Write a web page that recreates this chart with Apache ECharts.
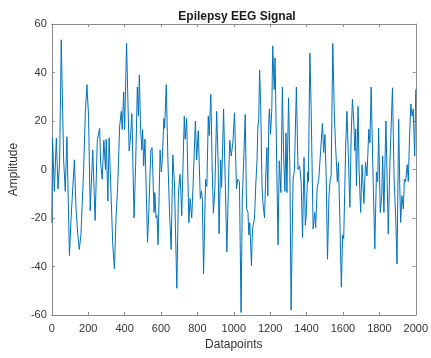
<!DOCTYPE html>
<html>
<head>
<meta charset="utf-8">
<script src="https://cdn.jsdelivr.net/npm/echarts@6/dist/echarts.min.js"></script>
<style>
html,body{margin:0;padding:0;background:#fff;}
#chart{width:431px;height:358px;}
</style>
</head>
<body>
<div id="chart"></div>
<script>
var titleText = 'Epilepsy EEG Signal';
var xName = 'Datapoints';
var yName = 'Amplitude';

var datapoints = [0,4,14,25,34,43,52,65,74,83,97,106,124,133,142,151,160,175,184,193,202,211,225,238,250,263,268,277,286,295,299,308,315,335,344,353,362,373,382,387,395,400,404,411,418,425,432,440,452,461,470,476,481,488,495,499,505,512,526,533,544,551,562,566,573,578,584,595,602,607,616,620,629,638,647,656,665,674,687,696,705,714,728,733,741,753,760,769,777,789,796,805,816,822,827,834,845,852,860,865,874,881,888,896,906,914,919,928,933,944,953,962,971,978,986,995,1004,1015,1022,1031,1040,1047,1056,1063,1070,1078,1083,1088,1097,1103,1114,1121,1128,1132,1137,1142,1148,1155,1160,1169,1175,1182,1187,1193,1196,1202,1209,1214,1222,1227,1232,1243,1250,1259,1267,1274,1281,1287,1292,1301,1308,1315,1326,1333,1344,1353,1362,1370,1378,1386,1393,1398,1406,1410,1418,1425,1436,1445,1450,1458,1467,1476,1487,1494,1501,1508,1515,1523,1530,1535,1544,1553,1559,1562,1569,1575,1582,1591,1598,1604,1615,1622,1629,1638,1645,1652,1660,1665,1670,1674,1683,1688,1697,1705,1715,1724,1732,1737,1742,1748,1755,1764,1775,1784,1791,1796,1805,1813,1818,1825,1836,1841,1849,1858,1872,1881,1890,1897,1906,1912,1917,1924,1932,1937,1944,1953,1959,1966,1973,1980,1986,1994,2000];

var amplitude = [-22,13,-9,13,-8,3,53.5,4,-9,13.5,-35.5,-20,4,-16,-26,-33,-27,0,23,35,22,-17,8,-21,12,17,3,-4,12,0,12.5,-13,13,-31,-41,-20,-7,18,24,16.5,32,16.5,29,52,29,7.7,12.5,23,-20,3,34,22,39,16.5,8,16.5,1.5,12.5,-30,-17.7,8,9,-17.7,-9.5,-20,-19,-31,8,-1,4,21,17,35,4,-18,-33,6,-6,-49,-9,-2,-19,22,12.5,21,-22,-12,-20,-5,20,4,16,-12,-9,-12,-43,-4,-7,22,14,31,1.5,-18,-8,24,3,-26.5,4,-7.4,25,-5,-34,-5,12,5.6,11,23.4,-8,-4,-5,-59,-12,7,22.7,-16,-17.7,-27,-22,-39.6,-24.5,-20,-6,4,17,20.7,41,26,-6.7,-13.6,-20,-4,9,-10.8,22,25,14.5,25,51,33,46,20.7,-31,3.6,-9.5,34,5.6,-9,15,-9.5,29.6,1.5,-58,-4,-0.5,34,0,1.5,-5,-28,5,-23,-19,-1,-5,48,26,-24.5,-17.7,-24,-8,-4,-3.3,19,7,14.5,-4,-37,-11,-4,-2.6,52,22,10.4,9.7,-5,3,-17.7,-48.5,-27,-28.6,9.7,24,7,-15.6,13.8,29,19,7.7,16.6,-6.7,26,1.5,-17.7,2,-14,3,-2.6,7,16.6,11,34,1.5,-32.7,-1,-5,17,-17.7,-11,5.6,-17.7,20,1.5,-26.6,3,33.7,-4,-20.4,-39,20.7,-6.7,-21.8,-10.8,-16.3,-4,-5,2,-5,13.8,27,22,25,5.6,33];

var xMin = 0, xMax = 2000, xStep = 200;
var yMin = -60, yMax = 60, yStep = 20;

var seriesData = datapoints.map(function(d, i){ return [d, amplitude[i]]; });

var axisColor = '#8a8a8a';
var textColor = '#333333';
var fontFam = 'Arial, "Liberation Sans", sans-serif';
function plain(v){ return String(v); }

var chart = echarts.init(document.getElementById('chart'), null, {renderer:'canvas'});
chart.setOption({
  animation: false,
  backgroundColor: '#ffffff',
  title: {
    text: titleText,
    left: 232, top: 6, textAlign: 'center',
    textStyle: {fontSize: 12, fontWeight: 'bold', color: '#1a1a1a', fontFamily: fontFam}
  },
  grid: {left: 47, right: 15, top: 24, bottom: 43, containLabel: false},
  xAxis: [{
    type: 'value', min: xMin, max: xMax, interval: xStep, position: 'bottom',
    name: xName, nameLocation: 'middle', nameGap: 23,
    nameTextStyle: {fontSize: 12, color: textColor, fontFamily: fontFam},
    axisLine: {show: true, onZero: false, lineStyle: {color: axisColor, width: 1}},
    axisTick: {show: true, inside: true, length: 3, lineStyle: {color: axisColor}},
    axisLabel: {fontSize: 11, color: textColor, margin: 8, fontFamily: fontFam, formatter: plain},
    splitLine: {show: false}
  }, {
    type: 'value', min: xMin, max: xMax, interval: xStep, position: 'top',
    axisLine: {show: true, onZero: false, lineStyle: {color: axisColor, width: 1}},
    axisTick: {show: true, inside: true, length: 3, lineStyle: {color: axisColor}},
    axisLabel: {show: false},
    splitLine: {show: false}
  }],
  yAxis: [{
    type: 'value', min: yMin, max: yMax, interval: yStep, position: 'left',
    name: yName, nameLocation: 'middle', nameGap: 26, nameRotate: 90,
    nameTextStyle: {fontSize: 12, color: textColor, fontFamily: fontFam},
    axisLine: {show: true, onZero: false, lineStyle: {color: axisColor, width: 1}},
    axisTick: {show: true, inside: true, length: 3, lineStyle: {color: axisColor}},
    axisLabel: {fontSize: 11, color: textColor, margin: 5, fontFamily: fontFam, formatter: plain},
    splitLine: {show: false}
  }, {
    type: 'value', min: yMin, max: yMax, interval: yStep, position: 'right',
    axisLine: {show: true, onZero: false, lineStyle: {color: axisColor, width: 1}},
    axisTick: {show: true, inside: true, length: 3, lineStyle: {color: axisColor}},
    axisLabel: {show: false},
    splitLine: {show: false}
  }],
  series: [{
    type: 'line',
    xAxisIndex: 0, yAxisIndex: 0,
    data: seriesData,
    showSymbol: false,
    symbol: 'none',
    lineStyle: {color: '#0072BD', width: 1},
    itemStyle: {color: '#0072BD'}
  }]
});
</script>
</body>
</html>
